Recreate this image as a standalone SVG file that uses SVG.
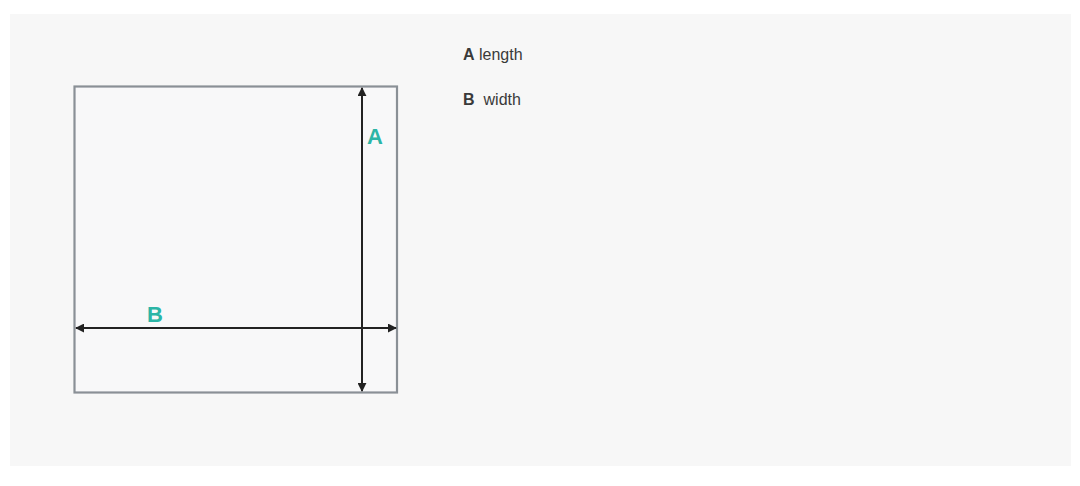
<svg xmlns="http://www.w3.org/2000/svg" width="1080" height="486" viewBox="0 0 1080 486">
<style>
.lbl{font-family:"Liberation Sans",Arial,sans-serif;font-weight:bold;font-size:22px;fill:#2bb5a6}
.leg{font-family:"Liberation Sans",Arial,sans-serif;font-size:16px;fill:#3a3a3a}
.legb{font-weight:bold}
.dim{stroke:#222;stroke-width:2;fill:none}
</style>
<defs>
<marker id="ah" viewBox="0 0 10 10" refX="9" refY="5" markerWidth="9" markerHeight="9" orient="auto-start-reverse" markerUnits="userSpaceOnUse">
<path d="M0,0 L10,5 L0,10 z" fill="#222"/>
</marker>
</defs>
<rect x="0" y="0" width="1080" height="486" fill="#ffffff"/>
<rect x="10" y="14" width="1061" height="452" fill="#f7f7f7"/>
<g id="plate">
<rect x="74.5" y="86.5" width="322.5" height="306" fill="#f8f8f9" stroke="#8a9096" stroke-width="2.2"/>
</g>
<g id="connectors">
<line class="dim" x1="362" y1="88" x2="362" y2="391" marker-start="url(#ah)" marker-end="url(#ah)"/>
<line class="dim" x1="76" y1="328" x2="396" y2="328" marker-start="url(#ah)" marker-end="url(#ah)"/>
</g>
<g id="label-A"><text class="lbl" x="375" y="144" text-anchor="middle">A</text></g>
<g id="label-B"><text class="lbl" x="155" y="322" text-anchor="middle">B</text></g>
<g id="legend">
<text class="leg" x="463" y="60"><tspan class="legb">A</tspan> length</text>
<text class="leg" x="463" y="105"><tspan class="legb">B</tspan><tspan dx="9">width</tspan></text>
</g>
</svg>
